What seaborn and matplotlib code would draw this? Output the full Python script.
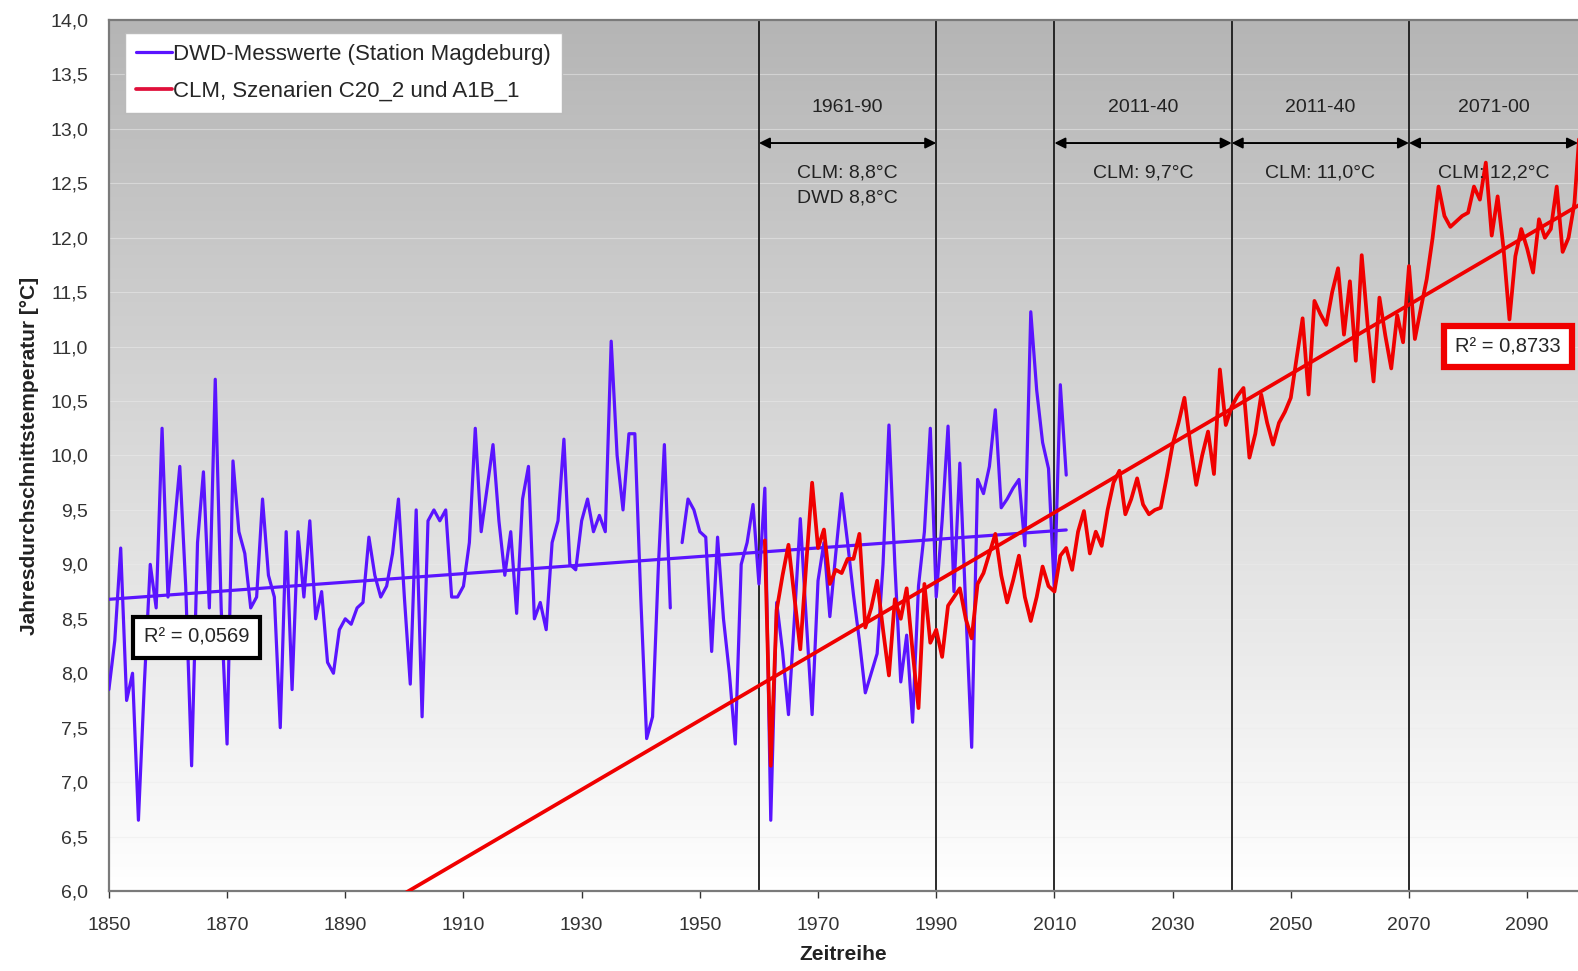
import numpy as np
import pandas as pd
import matplotlib
matplotlib.use("Agg")
import matplotlib.pyplot as plt
from matplotlib.colors import LinearSegmentedColormap
from matplotlib.lines import Line2D
import seaborn as sns

# --- data ----------------------------------------------------------------
dwd_years = list(range(1850, 2013))
dwd_temp = [
    7.85, 8.3, 9.15, 7.75, 8.0, 6.65, 7.9, 9.0, 8.6, 10.25,      # 1850-59
    8.7, 9.3, 9.9, 8.8, 7.15, 9.2, 9.85, 8.6, 10.7, 8.6,         # 1860-69
    7.35, 9.95, 9.3, 9.1, 8.6, 8.7, 9.6, 8.9, 8.7, 7.5,          # 1870-79
    9.3, 7.85, 9.3, 8.7, 9.4, 8.5, 8.75, 8.1, 8.0, 8.4,          # 1880-89
    8.5, 8.45, 8.6, 8.65, 9.25, 8.9, 8.7, 8.8, 9.1, 9.6,         # 1890-99
    8.7, 7.9, 9.5, 7.6, 9.4, 9.5, 9.4, 9.5, 8.7, 8.7,            # 1900-09
    8.8, 9.2, 10.25, 9.3, 9.7, 10.1, 9.4, 8.9, 9.3, 8.55,        # 1910-19
    9.6, 9.9, 8.5, 8.65, 8.4, 9.2, 9.4, 10.15, 9.0, 8.95,        # 1920-29
    9.4, 9.6, 9.3, 9.45, 9.3, 11.05, 10.0, 9.5, 10.2, 10.2,      # 1930-39
    8.7, 7.4, 7.6, 9.0, 10.1, 8.6, np.nan, 9.2, 9.6, 9.5,        # 1940-49
    9.3, 9.25, 8.2, 9.25, 8.5, 8.0, 7.35, 9.0, 9.2, 9.55,        # 1950-59
    8.82, 9.7, 6.65, 8.65, 8.2, 7.62, 8.5, 9.42, 8.5, 7.62,      # 1960-69
    8.85, 9.2, 8.52, 9.1, 9.65, 9.2, 8.72, 8.3, 7.82, 8.0,       # 1970-79
    8.18, 9.0, 10.28, 9.0, 7.92, 8.35, 7.55, 8.8, 9.3, 10.25,    # 1980-89
    8.7, 9.4, 10.27, 8.75, 9.93, 8.6, 7.32, 9.78, 9.65, 9.9,     # 1990-99
    10.42, 9.52, 9.6, 9.7, 9.78, 9.17, 11.32, 10.6, 10.12, 9.88, # 2000-09
    8.75, 10.65, 9.82,                                           # 2010-12
]

clm_years = list(range(1961, 2100))
clm_temp = [
    9.22, 7.15, 8.58, 8.9, 9.18, 8.7, 8.22, 9.0, 9.75,            # 1961-69
    9.15, 9.32, 8.82, 8.95, 8.92, 9.05, 9.05, 9.28, 8.42, 8.6,   # 1970-79
    8.85, 8.4, 7.98, 8.68, 8.5, 8.78, 8.2, 7.68, 8.82, 8.28,     # 1980-89
    8.4, 8.15, 8.62, 8.7, 8.78, 8.5, 8.32, 8.82, 8.92, 9.1,      # 1990-99
    9.28, 8.9, 8.65, 8.85, 9.08, 8.7, 8.48, 8.7, 8.98, 8.8,      # 2000-09
    8.75, 9.08, 9.15, 8.95, 9.3, 9.49, 9.1, 9.3, 9.17, 9.5,      # 2010-19
    9.75, 9.86, 9.46, 9.6, 9.79, 9.55, 9.46, 9.5, 9.52, 9.8,     # 2020-29
    10.1, 10.3, 10.53, 10.1, 9.73, 10.0, 10.22, 9.83, 10.79, 10.28,  # 2030-39
    10.45, 10.55, 10.62, 9.98, 10.2, 10.56, 10.3, 10.1, 10.3, 10.4,  # 2040-49
    10.53, 10.9, 11.26, 10.56, 11.42, 11.3, 11.2, 11.5, 11.72, 11.11,  # 2050-59
    11.6, 10.87, 11.84, 11.2, 10.68, 11.45, 11.1, 10.8, 11.29, 11.04,  # 2060-69
    11.74, 11.07, 11.35, 11.62, 12.0, 12.47, 12.2, 12.1, 12.15, 12.2,  # 2070-79
    12.23, 12.47, 12.35, 12.69, 12.02, 12.38, 11.9, 11.25, 11.83, 12.08,  # 2080-89
    11.9, 11.68, 12.17, 12.0, 12.08, 12.47, 11.87, 12.0, 12.32, 13.08,  # 2090-99
]

period_bounds = [1960, 1990, 2010, 2040, 2070]
period_arrows = [(1960, 1990), (2010, 2040), (2040, 2070), (2070, 2098.6)]
period_titles = ["1961-90", "2011-40", "2011-40", "2071-00"]
period_means = ["CLM: 8,8°C\nDWD 8,8°C", "CLM: 9,7°C", "CLM: 11,0°C", "CLM: 12,2°C"]

BLUE = "#5a14ff"
RED = "#f00000"

# --- dataframes ---------------------------------------------------------
dwd = pd.DataFrame({"Jahr": dwd_years, "Temp": dwd_temp})
dwd["seg"] = (dwd["Jahr"] > 1946).astype(int)
dwd = dwd.dropna()

clm = pd.DataFrame({"Jahr": clm_years, "Temp": clm_temp})

# linear trends (like the Excel trendlines)
b_fit = np.polyfit(dwd["Jahr"], dwd["Temp"], 1)
r_fit = np.polyfit(clm["Jahr"], clm["Temp"], 1)
dwd_trend = pd.DataFrame({"Jahr": [1850, 2012]})
dwd_trend["Temp"] = np.polyval(b_fit, dwd_trend["Jahr"])
clm_trend = pd.DataFrame({"Jahr": [1895, 2100]})
clm_trend["Temp"] = np.polyval(r_fit, clm_trend["Jahr"])

# --- plot ---------------------------------------------------------------
sns.set_theme(style="white")
plt.rcParams["font.family"] = ["Liberation Sans", "DejaVu Sans"]

fig = plt.figure(figsize=(15.78, 9.71), dpi=100)
ax = fig.add_axes([0.069, 0.0824, 0.931, 0.897])

# grey-to-white gradient background
grad = LinearSegmentedColormap.from_list("bg", ["#b5b5b5", "#dadada", "#ffffff"])
ax.imshow(np.linspace(0, 1, 256).reshape(-1, 1), cmap=grad, aspect="auto",
          extent=[0, 1, 0, 1], transform=ax.transAxes, zorder=0)

for yv in np.arange(6.5, 14.0, 0.5):
    ax.axhline(yv, color="#ececec", lw=0.8, alpha=0.5, zorder=1)

for xv in period_bounds:
    ax.axvline(xv, color="#1a1a1a", lw=1.3, zorder=2)

sns.lineplot(data=dwd, x="Jahr", y="Temp", units="seg", estimator=None,
             color=BLUE, lw=2.3, ax=ax, zorder=4)
sns.lineplot(data=clm, x="Jahr", y="Temp", color=RED, lw=2.7, ax=ax, zorder=5)
sns.lineplot(data=dwd_trend, x="Jahr", y="Temp", color=BLUE, lw=2.3, ax=ax, zorder=4)
sns.lineplot(data=clm_trend, x="Jahr", y="Temp", color=RED, lw=2.7, ax=ax, zorder=5)

# period arrows and labels
for (x0, x1), title, mean in zip(period_arrows, period_titles, period_means):
    ax.annotate("", xy=(x1, 12.87), xytext=(x0, 12.87),
                arrowprops=dict(arrowstyle="<|-|>", color="black", lw=1.4,
                                mutation_scale=16, shrinkA=0, shrinkB=0),
                zorder=6, annotation_clip=False)
    xc = (x0 + x1) / 2
    ax.text(xc, 13.2, title, ha="center", va="center", fontsize=14, color="#222222", zorder=6)
    ax.text(xc, 12.67, mean, ha="center", va="top", fontsize=14, color="#222222",
            linespacing=1.6, zorder=6)

# R² boxes
ax.text(1864.8, 8.33, "R² = 0,0569", ha="center", va="center", fontsize=14.5, zorder=7,
        bbox=dict(boxstyle="square,pad=0.55", facecolor="white", edgecolor="black", lw=3))
ax.text(2086.8, 11.0, "R² = 0,8733", ha="center", va="center", fontsize=14.5, zorder=7,
        bbox=dict(boxstyle="square,pad=0.55", facecolor="white", edgecolor=RED, lw=4.5))

# legend
handles = [Line2D([0], [0], color=BLUE, lw=2.3),
           Line2D([0], [0], color="#e0103a", lw=2.7)]
leg = ax.legend(handles, ["DWD-Messwerte (Station Magdeburg)", "CLM, Szenarien C20_2 und A1B_1"],
                loc="upper left", bbox_to_anchor=(0.011, 0.985), fontsize=16,
                frameon=True, fancybox=False, handlelength=1.6, handletextpad=0.05,
                borderpad=0.5, labelspacing=0.7, borderaxespad=0)
leg.get_frame().set_facecolor("white")
leg.get_frame().set_edgecolor("#bbbbbb")
leg.get_frame().set_alpha(1)
leg.set_zorder(8)

# axes
ax.set_xlim(1850, 2098.6)
ax.set_ylim(6.0, 14.0)
ax.set_xticks(range(1850, 2100, 20))
ax.set_yticks(np.arange(6.0, 14.01, 0.5))
ax.set_yticklabels([f"{v:.1f}".replace(".", ",") for v in np.arange(6.0, 14.01, 0.5)])
ax.tick_params(axis="both", labelsize=14, colors="#333333", length=5, width=1,
               direction="out", left=True, bottom=True, pad=4)
ax.tick_params(axis="y", pad=15, length=0)
ax.tick_params(axis="x", pad=14)
ax.set_xlabel("Zeitreihe", fontsize=15, fontweight="bold", color="#222222", labelpad=8)
ax.set_ylabel("Jahresdurchschnittstemperatur [°C]", fontsize=15, fontweight="bold",
              color="#222222", labelpad=8)

for side in ["left", "bottom", "top"]:
    ax.spines[side].set_color("#7a7a7a")
    ax.spines[side].set_linewidth(1.6)
ax.spines["right"].set_visible(False)

fig.savefig("out.png", dpi=100)
